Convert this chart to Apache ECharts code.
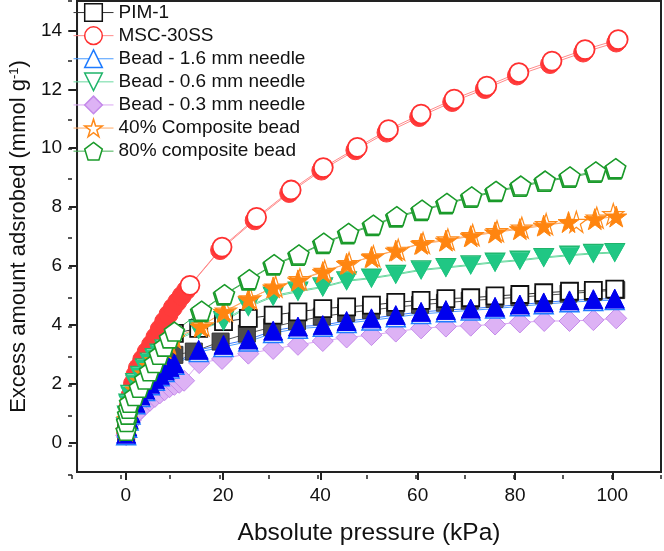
<!DOCTYPE html>
<html>
<head>
<meta charset="utf-8">
<script src="https://cdn.jsdelivr.net/npm/echarts@6/dist/echarts.min.js"></script>
<style>
  html, body { margin: 0; padding: 0; background: #fff; }
  #chart { width: 664px; height: 551px; }
</style>
</head>
<body>
<div id="chart"></div>
<script>
// pressures (kPa) and uptakes (mmol/g)
const lowP = [0.1, 0.3, 0.6, 1, 2, 3, 4, 5, 6, 7, 8, 9, 10];

const pimDesP = [10.0, 15.0, 20.1, 25.2, 30.3, 35.4, 40.5, 45.4, 50.5, 55.5, 60.7, 65.8, 70.9, 75.9, 81.0, 85.9, 91.2, 96.1, 100.5];
const pimDesQ = [3.71, 3.88, 4.11, 4.22, 4.33, 4.44, 4.55, 4.61, 4.67, 4.76, 4.83, 4.89, 4.92, 4.98, 5.03, 5.09, 5.14, 5.17, 5.21];
const pimAdsP = lowP.concat([14.0, 19.5, 24.9, 30.1, 35.2, 40.3, 45.3, 50.4, 55.4, 60.5, 65.6, 70.7, 75.8, 80.9, 85.9, 91.0, 96.0, 100.8]);
const pimAdsQ = [0.35, 0.7, 1.0, 1.25, 1.65, 1.95, 2.2, 2.4, 2.55, 2.68, 2.8, 2.9, 2.98,
  3.09, 3.43, 3.7, 3.92, 4.12, 4.28, 4.4, 4.5, 4.6, 4.68, 4.75, 4.82, 4.88, 4.94, 5.0, 5.06, 5.12, 5.18];

const mscDesP = [13.2, 19.8, 26.9, 34.0, 40.6, 47.6, 54.0, 60.7, 67.5, 74.2, 80.8, 87.6, 94.4, 101.2];
const mscDesQ = [5.34, 6.64, 7.65, 8.58, 9.34, 10.03, 10.63, 11.16, 11.67, 12.11, 12.57, 12.96, 13.35, 13.69];
const mscAdsP = [0.1, 0.3, 0.6, 1.0, 1.5, 2.0, 2.5, 3.4, 4.3, 5.2, 6.1, 7.0, 7.9, 8.8, 9.7, 10.6, 11.5, 12.4,
  19.4, 26.5, 33.6, 40.2, 47.2, 53.6, 60.3, 67.1, 73.8, 80.4, 87.2, 94.0, 100.8];
const mscAdsQ = [0.3, 0.7, 1.2, 1.6, 2.0, 2.3, 2.53, 2.82, 3.08, 3.32, 3.58, 3.85, 4.11, 4.35, 4.58, 4.78, 4.98, 5.17,
  6.54, 7.55, 8.48, 9.24, 9.93, 10.53, 11.06, 11.57, 12.01, 12.47, 12.86, 13.25, 13.59];

const beadP = lowP.concat([15.0, 20.1, 25.2, 30.3, 35.4, 40.5, 45.4, 50.5, 55.5, 60.7, 65.8, 70.9, 75.9, 81.0, 85.9, 91.2, 96.1, 100.5]);
const b16AdsQ = [0.3, 0.55, 0.8, 1.0, 1.35, 1.6, 1.8, 2.0, 2.15, 2.3, 2.45, 2.57, 2.69,
  3.15, 3.32, 3.5, 3.8, 3.94, 3.99, 4.13, 4.22, 4.33, 4.44, 4.5, 4.55, 4.61, 4.69, 4.76, 4.83, 4.87, 4.89];
const b16DesQ = [0.25, 0.5, 0.75, 0.95, 1.3, 1.55, 1.75, 1.95, 2.1, 2.25, 2.4, 2.52, 2.64,
  3.08, 3.25, 3.43, 3.72, 3.87, 3.93, 4.06, 4.15, 4.26, 4.37, 4.43, 4.49, 4.55, 4.63, 4.7, 4.77, 4.81, 4.84];

const b06AdsQ = [0.5, 0.9, 1.3, 1.6, 2.0, 2.25, 2.5, 2.7, 2.85, 3.0, 3.15, 3.3, 3.45,
  3.82, 4.11, 4.6, 4.95, 5.12, 5.27, 5.48, 5.57, 5.7, 5.85, 5.93, 6.02, 6.11, 6.18, 6.27, 6.35, 6.41, 6.44];
const b06DesQ = [0.55, 0.95, 1.35, 1.65, 2.05, 2.3, 2.55, 2.75, 2.9, 3.05, 3.2, 3.35, 3.5,
  3.87, 4.16, 4.64, 4.99, 5.16, 5.3, 5.51, 5.6, 5.73, 5.88, 5.96, 6.05, 6.14, 6.21, 6.3, 6.38, 6.44, 6.47];

const b03P = [0.1, 0.3, 0.6, 1, 2, 3, 4, 5, 6, 7, 8, 9, 10, 11, 12,
  15.1, 19.8, 25.2, 30.3, 35.4, 40.5, 45.4, 50.5, 55.5, 60.7, 65.8, 70.9, 75.9, 81.0, 86.0, 91.2, 96.1, 100.8];
const b03AdsQ = [0.25, 0.45, 0.6, 0.75, 0.95, 1.12, 1.28, 1.42, 1.55, 1.67, 1.78, 1.88, 1.96, 2.03, 2.1,
  2.7, 2.84, 3.02, 3.18, 3.32, 3.45, 3.57, 3.65, 3.77, 3.88, 3.94, 3.97, 4.01, 4.08, 4.13, 4.13, 4.16, 4.22];

const c40AdsP = lowP.concat([15.4, 20.1, 25.2, 30.3, 35.4, 40.5, 45.4, 50.5, 55.5, 60.7, 65.8, 70.9, 75.9, 81.0, 85.9, 91.0, 96.4, 100.8]);
const c40AdsQ = [0.4, 0.8, 1.1, 1.4, 1.8, 2.1, 2.35, 2.6, 2.8, 3.0, 3.2, 3.35, 3.55,
  3.94, 4.44, 4.87, 5.27, 5.51, 5.79, 6.07, 6.3, 6.52, 6.75, 6.86, 7.01, 7.14, 7.25, 7.37, 7.49, 7.59, 7.68];
const c40DesP = [15.8, 20.6, 25.6, 30.8, 35.8, 40.9, 45.9, 50.9, 56.0, 61.1, 66.2, 71.3, 76.3, 81.4, 86.4, 92.6, 96.8, 100.2];
const c40DesQ = [3.98, 4.48, 4.9, 5.3, 5.55, 5.83, 6.1, 6.33, 6.55, 6.78, 6.9, 7.05, 7.18, 7.3, 7.42, 7.5, 7.64, 7.76];

const c80AdsP = [0.1, 0.2, 0.4, 0.6, 0.8, 1.8, 2.8, 3.9, 4.9, 5.9, 6.9, 7.9, 9.0, 10.0,
  15.4, 20.1, 25.2, 30.3, 35.4, 40.5, 45.6, 50.7, 55.5, 60.7, 65.8, 70.9, 75.9, 81.0, 86.0, 91.1, 96.4, 100.5];
const c80AdsQ = [0.4, 0.7, 0.95, 1.15, 1.35, 1.58, 1.86, 2.14, 2.42, 2.7, 2.98, 3.26, 3.54, 3.77,
  4.44, 5.0, 5.51, 6.02, 6.35, 6.75, 7.08, 7.36, 7.65, 7.87, 8.1, 8.32, 8.51, 8.69, 8.86, 9.0, 9.17, 9.28];
const c80DesP = [15.6, 20.3, 25.4, 30.5, 35.6, 40.7, 45.8, 50.9, 55.7, 60.9, 66.0, 71.1, 76.1, 81.2, 86.2, 91.3, 96.6, 100.7];
const c80DesQ = [4.48, 5.04, 5.55, 6.06, 6.39, 6.79, 7.12, 7.4, 7.69, 7.91, 8.14, 8.36, 8.55, 8.73, 8.9, 9.04, 9.21, 9.32];

const xLabels = [0, 20, 40, 60, 80, 100];
const yLabels = [0, 2, 4, 6, 8, 10, 12, 14];

const FONT = 'Liberation Sans, Arial, sans-serif';
const PENT = 'path://M50,0L97.55,34.55L79.39,90.45L20.61,90.45L2.45,34.55Z';
const STAR = 'path://M50,0L61.23,34.55L97.55,34.55L68.16,55.9L79.39,90.45L50,69.1L20.61,90.45L31.84,55.9L2.45,34.55L38.77,34.55Z';
const DOWN = 'path://M0,0L100,0L50,86.6Z';

function pts(p, q) {
  return p.map((x, i) => [x, q[i]]);
}

function line(name, p, q, symbol, size, fill, stroke, lineColor, bw) {
  return {
    type: 'line',
    name: name,
    data: pts(p, q),
    symbol: symbol,
    symbolSize: size,
    showSymbol: true,
    itemStyle: { color: fill, borderColor: stroke, borderWidth: bw },
    lineStyle: { color: lineColor, width: 1 },
    emphasis: { disabled: true }
  };
}

const chart = echarts.init(document.getElementById('chart'));

const axisLine = { show: true, onZero: false, lineStyle: { color: '#222', width: 2 } };
const majorTick = { show: true, length: 8, lineStyle: { color: '#222', width: 2 } };
const minorTick = { show: true, length: 4, lineStyle: { color: '#222', width: 1.5 } };
const gridBox = { left: 72, right: 3, top: 1, bottom: 76 };

chart.setOption({
  animation: false,
  grid: [
    Object.assign({ show: true, borderColor: '#222', borderWidth: 2 }, gridBox),
    Object.assign({ show: false }, gridBox)
  ],
  legend: {
    orient: 'vertical',
    left: 73,
    top: 3,
    padding: 0,
    itemWidth: 40,
    itemHeight: 22,
    itemGap: 4,
    data: ['PIM-1', 'MSC-30SS', 'Bead - 1.6 mm needle', 'Bead - 0.6 mm needle',
      'Bead - 0.3 mm needle', '40% Composite bead', '80% composite bead'],
    textStyle: { fontSize: 19, color: '#111', fontFamily: FONT },
    lineStyle: { width: 1 },
    itemStyle: { borderWidth: 1.5 }
  },
  xAxis: [{
    type: 'value',
    min: -10,
    max: 110,
    interval: 10,
    axisLine: axisLine,
    axisTick: Object.assign({ customValues: xLabels }, majorTick),
    axisLabel: { customValues: xLabels, margin: 14, fontSize: 19, color: '#111', fontFamily: FONT },
    splitLine: { show: false },
    name: 'Absolute pressure (kPa)',
    nameLocation: 'middle',
    nameGap: 49,
    nameTextStyle: { fontSize: 24.5, color: '#111', fontFamily: FONT }
  }, {
    // minor ticks every 10 kPa
    gridIndex: 1,
    type: 'value',
    min: -10,
    max: 110,
    interval: 10,
    axisLine: { show: false, onZero: false },
    axisTick: minorTick,
    axisLabel: { show: false },
    splitLine: { show: false }
  }],
  yAxis: [{
    type: 'value',
    min: -1,
    max: 15,
    interval: 1,
    axisLine: axisLine,
    axisTick: Object.assign({ customValues: yLabels }, majorTick),
    axisLabel: { customValues: yLabels, margin: 15, fontSize: 19, color: '#111', fontFamily: FONT },
    splitLine: { show: false },
    name: 'Excess amount adsrobed (mmol g{s|-1})',
    nameLocation: 'middle',
    nameGap: 46,
    nameTextStyle: {
      fontSize: 22, color: '#111', fontFamily: FONT,
      rich: { s: { fontSize: 13, verticalAlign: 'top', color: '#111', fontFamily: FONT } }
    }
  }, {
    // minor ticks every 1 mmol/g
    gridIndex: 1,
    type: 'value',
    min: -1,
    max: 15,
    interval: 1,
    axisLine: { show: false, onZero: false },
    axisTick: minorTick,
    axisLabel: { show: false },
    splitLine: { show: false }
  }],
  series: [
    line('PIM-1 ads', pimAdsP, pimAdsQ, 'rect', 17, '#4d4d4d', '#333', '#555', 1),
    line('PIM-1', pimDesP, pimDesQ, 'rect', 17, '#fff', '#111', '#333', 1.8),
    line('MSC-30SS ads', mscAdsP, mscAdsQ, 'circle', 19, '#ff3b3b', '#ff3b3b', '#ff8a8a', 1),
    line('MSC-30SS', mscDesP, mscDesQ, 'circle', 19, '#fff', '#ff3030', '#ff8a8a', 1.8),
    line('Bead - 0.3 mm needle', b03P, b03AdsQ, 'diamond', 21, '#ddb2f5', '#c489ea', '#d9a6f2', 1),
    line('Bead - 1.6 mm needle', beadP, b16DesQ, 'triangle', 19, '#fff', '#1e7bff', '#4a9bff', 1.5),
    line('Bead - 1.6 mm needle ads', beadP, b16AdsQ, 'triangle', 19, '#0000ee', '#0000ee', '#3a7cff', 1),
    line('Bead - 0.6 mm needle', beadP, b06DesQ, DOWN, [19, 17], '#fff', '#1fb46a', '#6ad9a0', 1.5),
    line('Bead - 0.6 mm needle ads', beadP, b06AdsQ, DOWN, [19, 17], '#20c784', '#20c784', '#6ad9a0', 1),
    line('40% Composite bead', c40DesP, c40DesQ, STAR, 21, '#fff', '#ff8a1a', '#ffaa66', 1.2),
    line('40% Composite bead ads', c40AdsP, c40AdsQ, STAR, 21, '#ff8510', '#ff8510', '#ffaa66', 1),
    line('80% composite bead ads', c80AdsP, c80AdsQ, PENT, [20, 19], '#fff', '#1a9a2a', '#44b055', 1.6),
    line('80% composite bead', c80DesP, c80DesQ, PENT, [20, 19], '#fff', '#1a9a2a', '#44b055', 1.6)
  ]
});
</script>
</body>
</html>
